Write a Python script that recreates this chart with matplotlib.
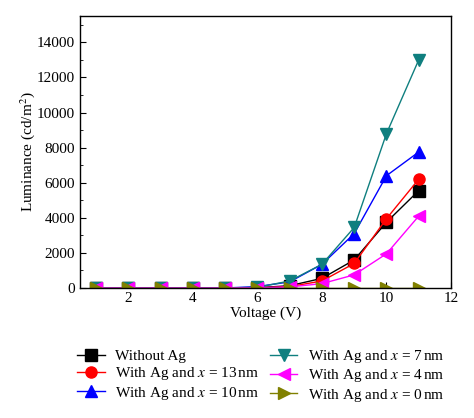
import matplotlib
matplotlib.use("Agg")
import matplotlib.pyplot as plt
from matplotlib.ticker import MultipleLocator

plt.rcParams['font.family'] = ['Liberation Serif', 'DejaVu Serif']
plt.rcParams['mathtext.fontset'] = 'stix'

voltage = [1, 2, 3, 4, 5, 6, 7, 8, 9, 10, 11]
without_ag = [0, 0, 0, 0, 0, 20, 130, 550, 1600, 3750, 5550]
ag_13nm = [0, 0, 0, 0, 0, 10, 80, 400, 1400, 3950, 6200]
ag_10nm = [0, 0, 0, 0, 0, 80, 350, 1350, 3100, 6400, 7750]
ag_7nm = [0, 0, 0, 0, 0, 40, 400, 1350, 3450, 8800, 13000]
ag_4nm = [0, 0, 0, 0, 0, 10, 60, 250, 750, 1950, 4100]
ag_0nm = [0, 0, 0, 0, 0, 0, 0, 0, 0, 0, 0]

labels = ["Without Ag",
          "With Ag and $x$ = 13$\\,$nm",
          "With Ag and $x$ = 10$\\,$nm",
          "With Ag and $x$ = 7$\\,$nm",
          "With Ag and $x$ = 4$\\,$nm",
          "With Ag and $x$ = 0$\\,$nm"]

series = [without_ag, ag_13nm, ag_10nm, ag_7nm, ag_4nm, ag_0nm]
colors = ['black', 'red', 'blue', '#0f7f7f', '#ff00ff', '#808000']
markers = ['s', 'o', '^', 'v', '<', '>']
zo = [3, 4, 5, 6, 7, 8]

fig = plt.figure(figsize=(4.74, 4.18), dpi=100)
ax = fig.add_axes([80/474, 1-288/418, (451-80)/474, (288-16)/418])

handles = []
for s, c, m, lab, z in zip(series, colors, markers, labels, zo):
    h, = ax.plot(voltage, s, color=c, marker=m, markersize=8, linewidth=1.0,
                 label=lab, zorder=z, clip_on=True,
                 markeredgecolor=c, markerfacecolor=c)
    handles.append(h)

ax.set_xlim(0.5, 12)
ax.set_ylim(0, 15500)
ax.xaxis.set_major_locator(MultipleLocator(2))
ax.xaxis.set_minor_locator(MultipleLocator(1))
ax.yaxis.set_major_locator(MultipleLocator(2000))
ax.yaxis.set_minor_locator(MultipleLocator(1000))
ax.tick_params(which='both', direction='in', labelsize=11)
ax.tick_params(which='major', length=4)
ax.tick_params(which='minor', length=2)
ax.tick_params(axis='x', pad=3)
ax.set_xticks([2, 4, 6, 8, 10, 12])
ax.set_yticks([0, 2000, 4000, 6000, 8000, 10000, 12000, 14000])
for sp in ax.spines.values():
    sp.set_linewidth(1.0)
    sp.set_zorder(10)

ax.set_xlabel("Voltage (V)", fontsize=11, labelpad=1)
ax.set_ylabel("Luminance (cd/m$^2$)", fontsize=11, labelpad=0)

fig.legend(handles=handles, loc='upper left', bbox_to_anchor=(77/474, 1-348/418),
           ncol=2, frameon=False, fontsize=11, handlelength=1.8,
           handletextpad=0.7, columnspacing=0.7, labelspacing=0.15,
           borderpad=0, borderaxespad=0)

fig.savefig("out.png", dpi=100)
